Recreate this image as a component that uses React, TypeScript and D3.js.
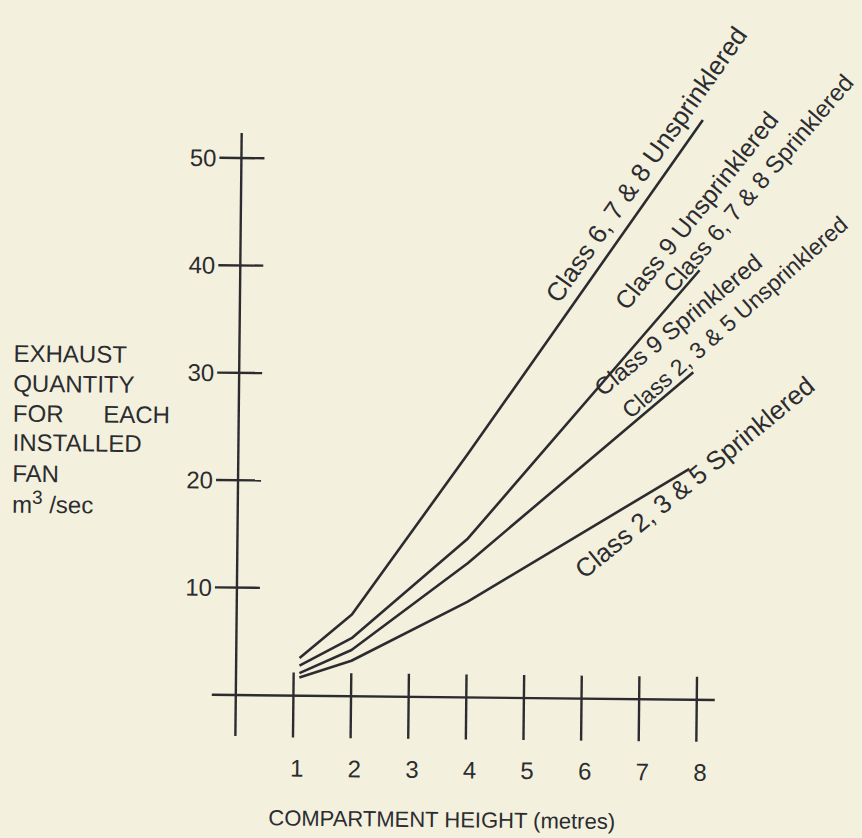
import React from "react";
import * as d3 from "d3";

// ---------- data ----------
const heightTicks = [1, 2, 3, 4, 5, 6, 7, 8];
const quantityTicks = [10, 20, 30, 40, 50];
const heights = [1.1, 2, 4, 8];
const lineEndHeights = [8, 7.97, 7.88, 7.83];
const class678Unsprinklered = [3.5, 7.6, 22.8, 54];
const class9Unspr678Spr = [2.8, 5.4, 14.8, 40];
const class9Spr235Unspr = [2.1, 4.3, 12.5, 30.5];
const class235Sprinklered = [1.7, 3.3, 8.9, 21.5];
const seriesValues = [
  class678Unsprinklered,
  class9Unspr678Spr,
  class9Spr235Unspr,
  class235Sprinklered,
];
const seriesLabels = [
  "Class 6, 7 & 8 Unsprinklered",
  "Class 9 Unsprinklered",
  "Class 6, 7 & 8 Sprinklered",
  "Class 9 Sprinklered",
  "Class 2, 3 & 5 Unsprinklered",
  "Class 2, 3 & 5 Sprinklered",
];
const yTitleLines = ["EXHAUST", "QUANTITY", "INSTALLED", "FAN"];
const xTitle = "COMPARTMENT HEIGHT (metres)";

// ---------- layout ----------
const W = 862;
const H = 838;
const INK = "#2c2c30";
const PAPER = "#f3f1de";
const FONT = "'Liberation Sans', Arial, Helvetica, sans-serif";

export default function App() {
  const x = d3.scaleLinear().domain([0, 8]).range([235.8, 696.8]);
  const y = d3.scaleLinear().domain([0, 50]).range([695, 158]);
  const x0 = x(0);
  const y0 = y(0);

  const line = d3
    .line<[number, number]>()
    .x((d) => x(d[0]))
    .y((d) => y(d[1]));

  const paths = seriesValues.map((vals, i) => {
    const pts: [number, number][] = vals.map((v, j) => [
      j === vals.length - 1 ? lineEndHeights[i] : heights[j],
      v,
    ]);
    return line(pts) as string;
  });

  const endPt = (i: number) => {
    const vals = seriesValues[i];
    return [x(lineEndHeights[i]), y(vals[vals.length - 1])];
  };
  const [aX, aY] = endPt(0);
  const [bX, bY] = endPt(1);
  const [cX, cY] = endPt(2);
  const [dX, dY] = endPt(3);
  const labelPos = [
    { t: seriesLabels[0], x: aX - 142, y: aY + 186, a: -55.5, s: 26 },
    { t: seriesLabels[1], x: bX - 72, y: bY + 42, a: -52, s: 25 },
    { t: seriesLabels[2], x: bX - 25, y: bY + 24, a: -50, s: 24 },
    { t: seriesLabels[3], x: cX - 90, y: cY + 26, a: -40, s: 24 },
    { t: seriesLabels[4], x: cX - 62, y: cY + 48, a: -42, s: 23 },
    { t: seriesLabels[5], x: dX - 104, y: dY + 112, a: -40, s: 26 },
  ];

  return (
    <svg
      width={W}
      height={H}
      viewBox={`0 0 ${W} ${H}`}
      style={{ display: "block", position: "absolute", left: 0, top: 0 }}
    >
      <rect x={0} y={0} width={W} height={H} fill={PAPER} />
      <g transform={`rotate(0.6 ${x0} ${y0})`} fontFamily={FONT} fill={INK}>
        {/* y axis */}
        <line x1={x0} x2={x0} y1={133} y2={y0 + 41} stroke={INK} strokeWidth={2.4} />
        {quantityTicks.map((t) => (
          <g key={t}>
            <line x1={x0 - 22} x2={x0 + 23} y1={y(t)} y2={y(t)} stroke={INK} strokeWidth={2.4} />
            <text x={x0 - 25} y={y(t)} textAnchor="end" dominantBaseline="central" fontSize={24}>
              {t}
            </text>
          </g>
        ))}
        {/* x axis */}
        <line x1={x0 - 24} x2={x(8) + 18} y1={y0} y2={y0} stroke={INK} strokeWidth={2.4} />
        {heightTicks.map((t) => (
          <g key={t}>
            <line x1={x(t)} x2={x(t)} y1={y0 - 23} y2={y0 + 42} stroke={INK} strokeWidth={2.4} />
            <text x={x(t) + 4} y={y0 + 81} textAnchor="middle" fontSize={24}>
              {t}
            </text>
          </g>
        ))}
        {/* series lines */}
        {paths.map((p, i) => (
          <path key={i} d={p} fill="none" stroke={INK} strokeWidth={2.6} strokeLinejoin="round" />
        ))}
        {/* series labels */}
        {labelPos.map((l, i) => (
          <text key={i} x={l.x} y={l.y} fontSize={l.s} transform={`rotate(${l.a} ${l.x} ${l.y})`}>
            {l.t}
          </text>
        ))}
        {/* axis titles */}
        <text x={443} y={825} textAnchor="middle" fontSize={22}>
          {xTitle}
        </text>
        <g fontSize={24}>
          <text x={10} y={364}>{yTitleLines[0]}</text>
          <text x={10} y={394}>{yTitleLines[1]}</text>
          <text x={10} y={424}>FOR</text>
          <text x={167} y={424} textAnchor="end">EACH</text>
          <text x={10} y={453}>{yTitleLines[2]}</text>
          <text x={10} y={484}>{yTitleLines[3]}</text>
          <text x={10} y={515}>
            m<tspan dy={-9} fontSize={19}>3</tspan>
            <tspan dy={9}> /sec</tspan>
          </text>
        </g>
      </g>
    </svg>
  );
}
